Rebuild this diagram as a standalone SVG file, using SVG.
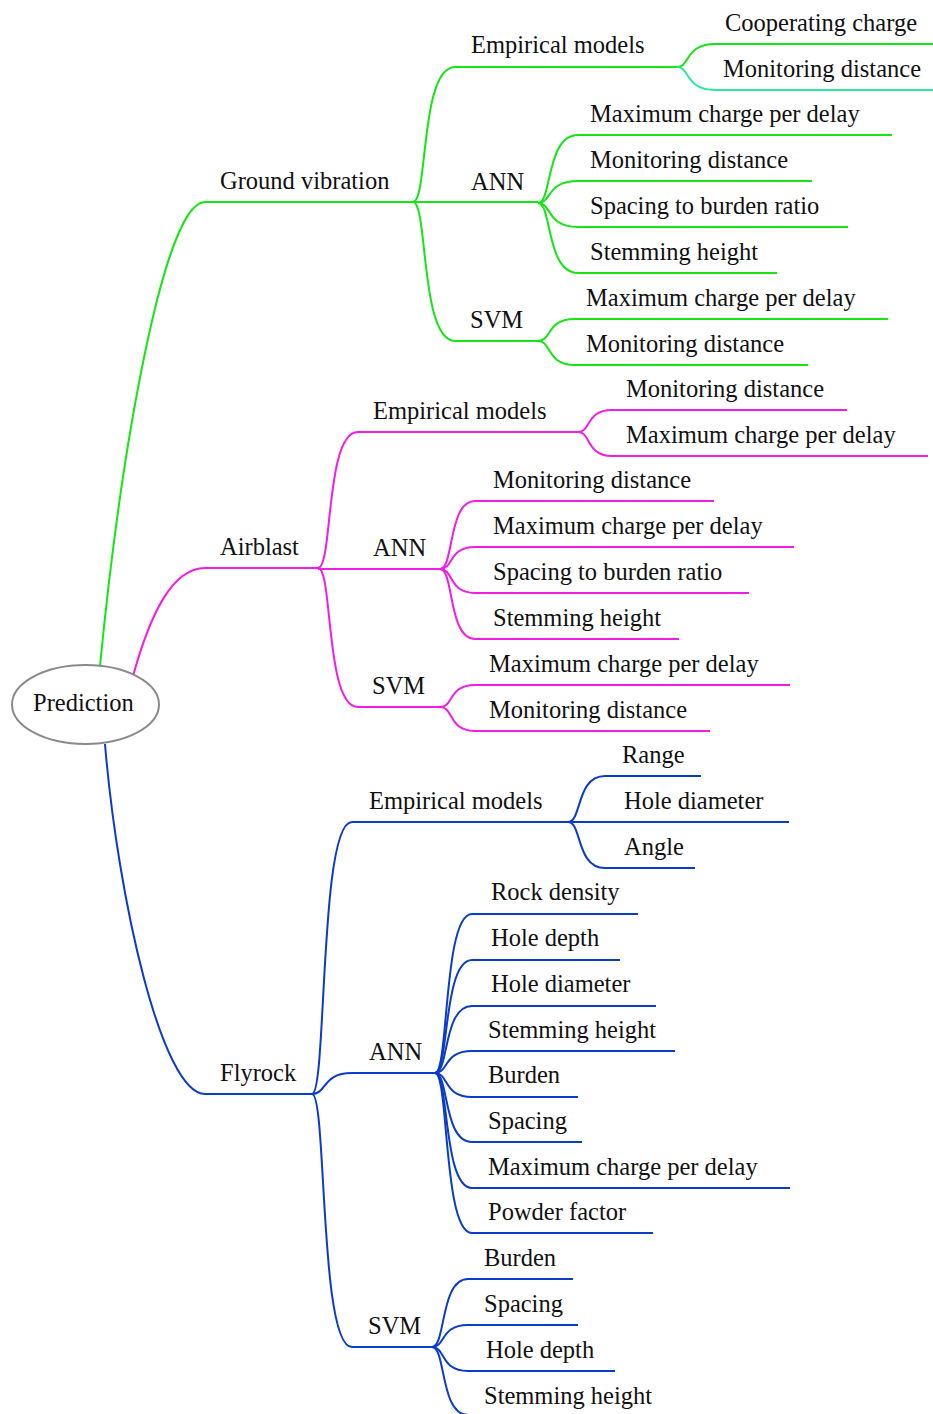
<svg xmlns="http://www.w3.org/2000/svg" width="933" height="1414" viewBox="0 0 933 1414">
<style>
path{fill:none;stroke-width:2;stroke-linecap:butt}
.g{stroke:#14e614}.gt{stroke:#2ae89c}.m{stroke:#f21ce6}.b{stroke:#0a3ccb}
</style>
<rect width="933" height="1414" fill="#fff"/>
<g id="connectors">
<path class="g" d="M100,666 C122,440 165,202 205,202 H413"/>
<path class="m" d="M133,676 C150,615 172,568 205,568 H318"/>
<path class="b" d="M105,744 C118,900 162,1094 205,1094 H312"/>
<path class="g" d="M413,202 C428,202 420,67 455,67 H677"/>
<path class="g" d="M413,202 H538"/>
<path class="g" d="M413,202 C428,202 420,341 455,341 H538"/>
<path class="g" d="M677,67 C690,67 685,44 715,44 H933"/>
<path class="gt" d="M677,67 C690,67 685,90 715,90 H933"/>
<path class="g" d="M538,203 C552,203 546,135 578,135 H892"/>
<path class="g" d="M538,203 C552,203 546,181 578,181 H812"/>
<path class="g" d="M538,203 C552,203 546,227 578,227 H848"/>
<path class="g" d="M538,203 C552,203 546,273 578,273 H777"/>
<path class="g" d="M538,341 C552,341 546,319 575,319 H888"/>
<path class="g" d="M538,341 C552,341 546,365 575,365 H808"/>
<path class="m" d="M318,568 C333,568 325,432 358,432 H578"/>
<path class="m" d="M318,569 H440"/>
<path class="m" d="M318,568 C333,568 325,707 358,707 H440"/>
<path class="m" d="M578,432 C591,432 586,410 612,410 H847"/>
<path class="m" d="M578,432 C591,432 586,456 612,456 H928"/>
<path class="m" d="M440,569 C454,569 448,501 475,501 H714"/>
<path class="m" d="M440,569 C454,569 448,547 475,547 H794"/>
<path class="m" d="M440,569 C454,569 448,593 475,593 H749"/>
<path class="m" d="M440,569 C454,569 448,639 475,639 H679"/>
<path class="m" d="M440,707 C454,707 448,685 475,685 H790"/>
<path class="m" d="M440,707 C454,707 448,731 475,731 H710"/>
<path class="b" d="M312,1094 C327,1094 319,822 352,822 H568"/>
<path class="b" d="M312,1094 C327,1094 322,1073 352,1073 H435"/>
<path class="b" d="M312,1094 C327,1094 319,1347 352,1347 H432"/>
<path class="b" d="M568,822 C582,822 576,776 605,776 H701"/>
<path class="b" d="M568,822 H789"/>
<path class="b" d="M568,822 C582,822 576,868 605,868 H695"/>
<path class="b" d="M435,1073 C449,1073 443,914 472,914 H638"/>
<path class="b" d="M435,1073 C449,1073 443,960 472,960 H620"/>
<path class="b" d="M435,1073 C449,1073 443,1006 472,1006 H656"/>
<path class="b" d="M435,1073 C449,1073 443,1051 472,1051 H675"/>
<path class="b" d="M435,1073 C449,1073 443,1097 472,1097 H578"/>
<path class="b" d="M435,1073 C449,1073 443,1142 472,1142 H582"/>
<path class="b" d="M435,1073 C449,1073 443,1188 472,1188 H790"/>
<path class="b" d="M435,1073 C449,1073 443,1233 472,1233 H653"/>
<path class="b" d="M432,1347 C446,1347 440,1279 468,1279 H573"/>
<path class="b" d="M432,1347 C446,1347 440,1325 468,1325 H578"/>
<path class="b" d="M432,1347 C446,1347 440,1371 468,1371 H615"/>
<path class="b" d="M432,1347 C446,1347 440,1415 468,1415 H680"/>
</g>
<g font-family="Liberation Serif, Times New Roman, serif" font-size="24.5" fill="#111">
<g id="root"><ellipse cx="85.5" cy="704.5" rx="73.5" ry="39.5" fill="#fff" stroke="#8a8a8a" stroke-width="2"/><text x="33" y="711">Prediction</text></g>
<g id="ground-vibration"><text x="220" y="189">Ground vibration</text></g>
<g id="airblast"><text x="220" y="555">Airblast</text></g>
<g id="flyrock"><text x="220" y="1081">Flyrock</text></g>
<g id="gv-empirical"><text x="471" y="53">Empirical models</text></g>
<g id="gv-ann"><text x="471" y="190">ANN</text></g>
<g id="gv-svm"><text x="470" y="328">SVM</text></g>
<g id="gv-emp-1"><text x="725" y="31">Cooperating charge</text></g>
<g id="gv-emp-2"><text x="723" y="77">Monitoring distance</text></g>
<g id="gv-ann-1"><text x="590" y="122">Maximum charge per delay</text></g>
<g id="gv-ann-2"><text x="590" y="168">Monitoring distance</text></g>
<g id="gv-ann-3"><text x="590" y="214">Spacing to burden ratio</text></g>
<g id="gv-ann-4"><text x="590" y="260">Stemming height</text></g>
<g id="gv-svm-1"><text x="586" y="306">Maximum charge per delay</text></g>
<g id="gv-svm-2"><text x="586" y="352">Monitoring distance</text></g>
<g id="ab-empirical"><text x="373" y="419">Empirical models</text></g>
<g id="ab-ann"><text x="373" y="556">ANN</text></g>
<g id="ab-svm"><text x="372" y="694">SVM</text></g>
<g id="ab-emp-1"><text x="626" y="397">Monitoring distance</text></g>
<g id="ab-emp-2"><text x="626" y="443">Maximum charge per delay</text></g>
<g id="ab-ann-1"><text x="493" y="488">Monitoring distance</text></g>
<g id="ab-ann-2"><text x="493" y="534">Maximum charge per delay</text></g>
<g id="ab-ann-3"><text x="493" y="580">Spacing to burden ratio</text></g>
<g id="ab-ann-4"><text x="493" y="626">Stemming height</text></g>
<g id="ab-svm-1"><text x="489" y="672">Maximum charge per delay</text></g>
<g id="ab-svm-2"><text x="489" y="718">Monitoring distance</text></g>
<g id="fr-empirical"><text x="369" y="809">Empirical models</text></g>
<g id="fr-ann"><text x="369" y="1060">ANN</text></g>
<g id="fr-svm"><text x="368" y="1334">SVM</text></g>
<g id="fr-emp-1"><text x="622" y="763">Range</text></g>
<g id="fr-emp-2"><text x="624" y="809">Hole diameter</text></g>
<g id="fr-emp-3"><text x="624" y="855">Angle</text></g>
<g id="fr-ann-1"><text x="491" y="900">Rock density</text></g>
<g id="fr-ann-2"><text x="491" y="946">Hole depth</text></g>
<g id="fr-ann-3"><text x="491" y="992">Hole diameter</text></g>
<g id="fr-ann-4"><text x="488" y="1038">Stemming height</text></g>
<g id="fr-ann-5"><text x="488" y="1083">Burden</text></g>
<g id="fr-ann-6"><text x="488" y="1129">Spacing</text></g>
<g id="fr-ann-7"><text x="488" y="1175">Maximum charge per delay</text></g>
<g id="fr-ann-8"><text x="488" y="1220">Powder factor</text></g>
<g id="fr-svm-1"><text x="484" y="1266">Burden</text></g>
<g id="fr-svm-2"><text x="484" y="1312">Spacing</text></g>
<g id="fr-svm-3"><text x="486" y="1358">Hole depth</text></g>
<g id="fr-svm-4"><text x="484" y="1404">Stemming height</text></g>
</g>
</svg>
